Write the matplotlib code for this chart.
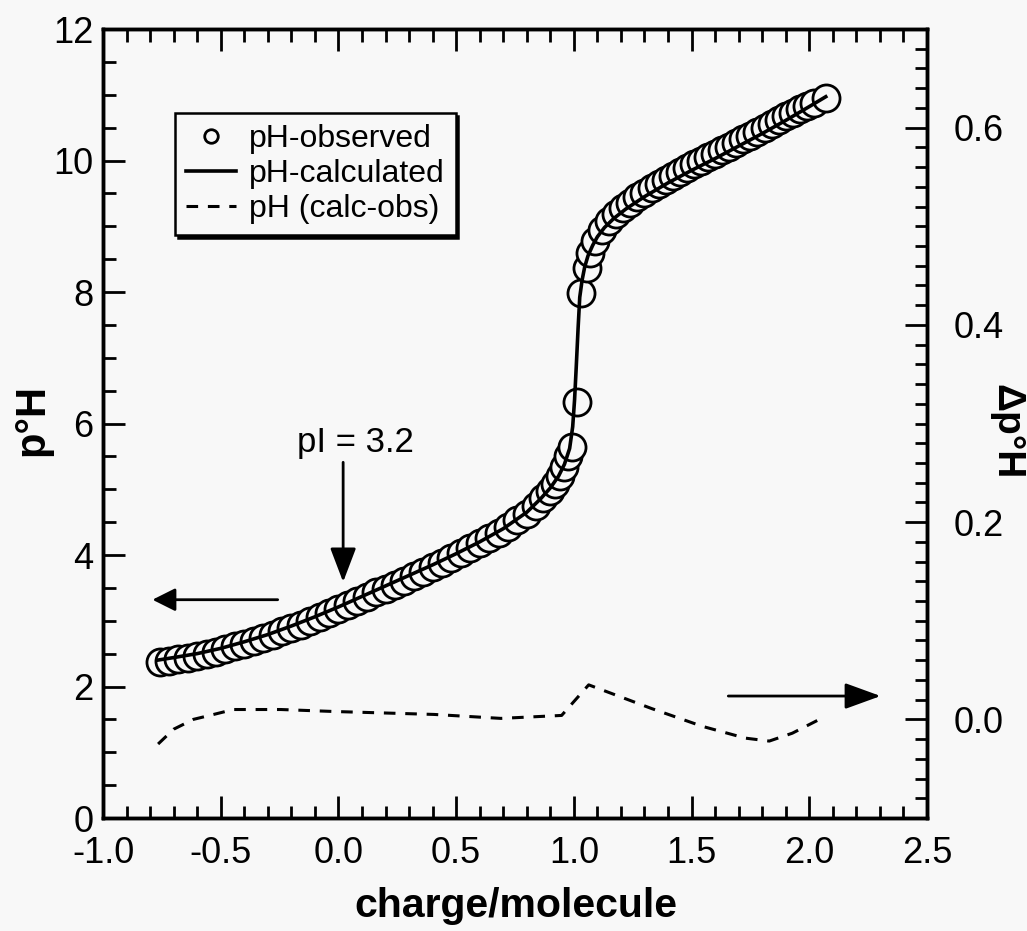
import matplotlib
matplotlib.use('Agg')
import matplotlib.pyplot as plt
from matplotlib.ticker import MultipleLocator, FormatStrFormatter

plt.rcParams['font.family'] = ['Liberation Sans', 'DejaVu Sans']
plt.rcParams['axes.unicode_minus'] = False

# observed pH vs charge per molecule
obs_x = [-0.76, -0.72, -0.68, -0.64, -0.60, -0.56, -0.52, -0.48, -0.44, -0.40,
         -0.36, -0.32, -0.28, -0.24, -0.20, -0.16, -0.12, -0.08, -0.04, 0.00,
         0.04, 0.08, 0.12, 0.16, 0.20, 0.24, 0.28, 0.32, 0.36, 0.40,
         0.44, 0.48, 0.52, 0.56, 0.60, 0.64, 0.68, 0.72, 0.76, 0.80,
         0.84, 0.87, 0.90, 0.92, 0.94, 0.96, 0.975, 0.99, 1.012, 1.03,
         1.055, 1.07, 1.09, 1.12, 1.15, 1.18, 1.21, 1.24, 1.27, 1.30,
         1.33, 1.36, 1.39, 1.42, 1.45, 1.48, 1.51, 1.54, 1.57, 1.60,
         1.63, 1.66, 1.69, 1.72, 1.75, 1.78, 1.81, 1.84, 1.87, 1.90,
         1.93, 1.96, 1.99, 2.02, 2.07]
obs_y = [2.37, 2.39, 2.42, 2.44, 2.47, 2.50, 2.53, 2.57, 2.61, 2.65,
         2.69, 2.74, 2.79, 2.84, 2.89, 2.94, 3.00, 3.06, 3.12, 3.18,
         3.24, 3.30, 3.36, 3.43, 3.49, 3.55, 3.61, 3.68, 3.74, 3.81,
         3.88, 3.95, 4.03, 4.10, 4.18, 4.26, 4.34, 4.43, 4.53, 4.63,
         4.75, 4.86, 4.98, 5.08, 5.20, 5.34, 5.50, 5.64, 6.33, 7.98,
         8.36, 8.60, 8.78, 8.95, 9.08, 9.18, 9.27, 9.36, 9.44, 9.51,
         9.58, 9.64, 9.71, 9.77, 9.83, 9.89, 9.94, 10.00, 10.05, 10.10,
         10.16, 10.21, 10.27, 10.32, 10.38, 10.43, 10.49, 10.55, 10.61, 10.67,
         10.72, 10.78, 10.83, 10.88, 10.95]

# calculated pH curve
calc_x = [-0.77, -0.7, -0.6, -0.5, -0.4, -0.3, -0.2, -0.1, 0.0, 0.1, 0.2, 0.3,
          0.4, 0.5, 0.6, 0.7, 0.8, 0.86, 0.9, 0.935, 0.96, 0.982, 0.995, 1.003,
          1.01, 1.018, 1.025, 1.035, 1.046, 1.06, 1.08, 1.1, 1.13, 1.17, 1.22,
          1.3, 1.4, 1.5, 1.6, 1.7, 1.8, 1.9, 2.0, 2.07]
calc_y = [2.40, 2.44, 2.50, 2.58, 2.68, 2.79, 2.92, 3.06, 3.21, 3.37, 3.53, 3.69,
          3.85, 4.02, 4.20, 4.40, 4.65, 4.86, 5.02, 5.20, 5.38, 5.62, 5.95, 6.36,
          6.85, 7.45, 7.92, 8.18, 8.38, 8.55, 8.71, 8.84, 8.98, 9.12, 9.26,
          9.45, 9.66, 9.85, 10.03, 10.22, 10.41, 10.61, 10.82, 10.97]

# calc - obs difference (right axis)
diff_x = [-0.766, -0.70, -0.616, -0.53, -0.446, -0.245, -0.02, 0.407, 0.69,
          0.948, 1.063, 1.33, 1.545, 1.728, 1.83, 1.928, 2.035]
diff_y = [-0.025, -0.010, 0.0, 0.005, 0.010, 0.010, 0.008, 0.005, 0.001,
          0.004, 0.035, 0.011, -0.007, -0.019, -0.022, -0.014, -0.001]

bg = '#f8f8f8'
fig = plt.figure(figsize=(10.27, 9.31), dpi=100, facecolor=bg)
ax = fig.add_axes([103/1027, 1-818/931, (927-103)/1027, (818-29)/931])
ax.set_facecolor(bg)
ax2 = ax.twinx()

l1, = ax.plot(obs_x, obs_y, 'o', ms=19.5, mfc=bg, mec='k', mew=2.0, zorder=2,
              label='pH-observed')
l2, = ax.plot(calc_x, calc_y, '-', color='k', lw=2.6, zorder=3,
              label='pH-calculated')
l3, = ax2.plot(diff_x, diff_y, color='k', lw=2.2, dashes=(3.8, 3.2),
               label='pH (calc-obs)')

ax.set_xlim(-1.0, 2.5)
ax.set_ylim(0, 12)
ax2.set_ylim(-0.1, 0.7)

ax.xaxis.set_major_locator(MultipleLocator(0.5))
ax.xaxis.set_minor_locator(MultipleLocator(0.1))
ax.xaxis.set_major_formatter(FormatStrFormatter('%.1f'))
ax.yaxis.set_major_locator(MultipleLocator(2))
ax.yaxis.set_minor_locator(MultipleLocator(0.5))
ax2.yaxis.set_major_locator(MultipleLocator(0.2))
ax2.yaxis.set_minor_locator(MultipleLocator(0.02))
ax2.yaxis.set_major_formatter(FormatStrFormatter('%.1f'))

ax.tick_params(which='both', direction='in', width=2, top=True, right=False)
ax.tick_params(which='major', length=16, labelsize=26)
ax.tick_params(which='minor', length=9)
ax.tick_params(axis='x', pad=13)
ax.tick_params(axis='y', pad=7)
ax2.tick_params(which='both', direction='in', width=2)
ax2.tick_params(which='major', length=16, labelsize=26, pad=19)
ax2.tick_params(which='minor', length=9)
for a in (ax, ax2):
    for s in a.spines.values():
        s.set_linewidth(2.5)

# arrows and pI annotation
ax.annotate('', xy=(0.02, 3.59), xytext=(0.02, 5.41),
            arrowprops=dict(arrowstyle='-|>,head_length=2.1,head_width=0.8',
                            mutation_scale=10, lw=2, color='k',
                            shrinkA=0, shrinkB=0))
ax.text(0.074, 5.57, 'pI = 3.2', fontsize=25, ha='center', va='baseline')
ax.annotate('', xy=(-0.79, 3.32), xytext=(-0.258, 3.32),
            arrowprops=dict(arrowstyle='-|>,head_length=1.4,head_width=0.7',
                            mutation_scale=10, lw=2, color='k',
                            shrinkA=0, shrinkB=0))
ax.annotate('', xy=(2.303, 1.855), xytext=(1.656, 1.855),
            arrowprops=dict(arrowstyle='-|>,head_length=2.2,head_width=0.8',
                            mutation_scale=10, lw=2, color='k',
                            shrinkA=0, shrinkB=0))

fig.text(516/1027, 1-906/931, 'charge/molecule', fontsize=29.5,
         fontweight='bold', ha='center', va='center')
fig.text(32/1027, 1-420/931, 'p°H', fontsize=30, fontweight='bold',
         rotation=90, ha='center', va='center')
fig.text(1006/1027, 1-432/931, 'Δp°H', fontsize=28, fontweight='bold',
         rotation=270, ha='center', va='center')

leg = ax2.legend([l1, l2, l3], ['pH-observed', 'pH-calculated', 'pH (calc-obs)'],
                 loc='upper left', bbox_to_anchor=(0.0877, 0.8935),
                 borderaxespad=0, borderpad=0.35, handlelength=1.55,
                 handletextpad=0.4, labelspacing=0.15, fontsize=23,
                 markerscale=0.5, fancybox=False, edgecolor='k',
                 facecolor=bg, framealpha=1,
                 shadow={'color': 'k', 'alpha': 1})
leg.get_frame().set_linewidth(1.8)

fig.savefig('out.png', dpi=100, facecolor=bg)
